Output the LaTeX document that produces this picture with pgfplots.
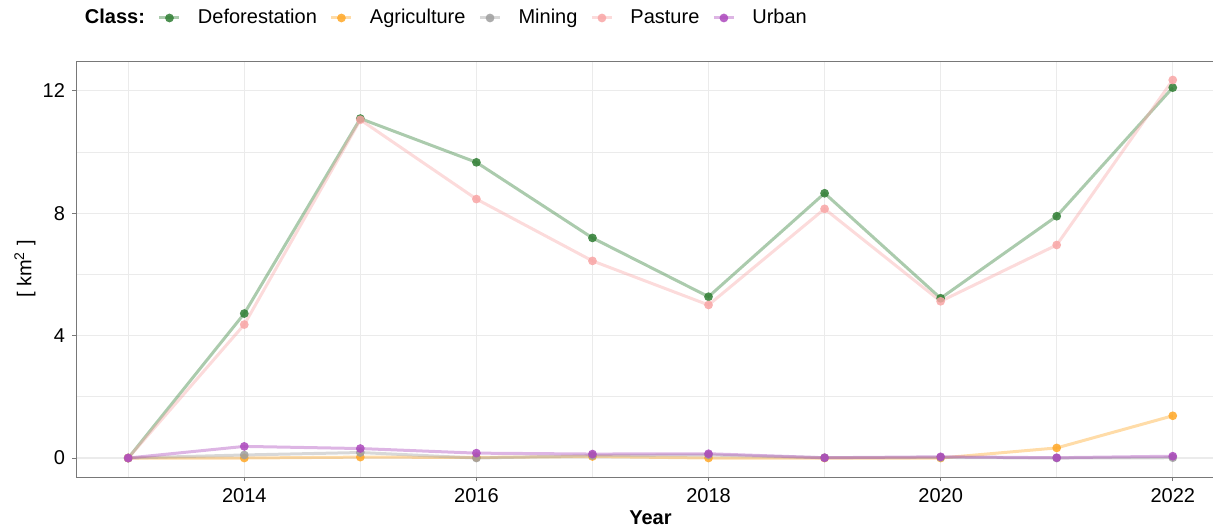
\documentclass[border=0pt]{standalone}
\usepackage{fontspec}
\setmainfont{Liberation Sans}
\usepackage{pgfplots}
\pgfplotsset{compat=1.18}
\definecolor{cdef}{RGB}{46,125,50}
\definecolor{cagr}{RGB}{255,167,38}
\definecolor{cmin}{RGB}{158,158,158}
\definecolor{cpas}{RGB}{248,165,165}
\definecolor{curb}{RGB}{171,71,188}
\definecolor{gridc}{RGB}{235,235,235}
\definecolor{framec}{RGB}{120,120,120}
\pgfplotsset{
  ser/.style={color=#1, line width=1.5pt, draw opacity=0.4, mark=*, mark size=2.2pt,
    mark options={solid, line width=0pt, draw opacity=0, fill=#1, fill opacity=0.85}},
}
\begin{document}
\begin{tikzpicture}
\useasboundingbox (0,0) rectangle (606.5pt,263.5pt);
\begin{axis}[
  at={(38pt,25pt)}, anchor=south west,
  scale only axis, width=574.5pt, height=208pt,
  font=\fontsize{10}{12}\selectfont,
  /pgf/number format/assume math mode=true,
  xmin=2012.55, xmax=2022.45, ymin=-0.62, ymax=12.97,
  xtick={2014,2016,2018,2020,2022},
  minor xtick={2013,2015,2017,2019,2021},
  ytick={0,4,8,12}, minor ytick={2,6,10},
  xticklabel style={/pgf/number format/1000 sep={}},
  grid=both,
  major grid style={draw=gridc, line width=0.6pt},
  minor grid style={draw=gridc, line width=0.35pt},
  axis line style={draw=framec, line width=0.5pt},
  tick style={draw=framec, line width=0.5pt},
  major tick length=2pt, minor tick length=0pt,
  tick align=outside,
  xtick pos=bottom, ytick pos=left,
  xlabel={\textbf{Year}},
  xlabel style={at={(axis description cs:0.5,-0.0986)}, anchor=center},
  ylabel={[ km\textsuperscript{2} ]},
  ylabel style={at={(axis description cs:-0.0444,0.5)}, anchor=center},
  legend style={at={(axis description cs:-0.007,1.1034)}, anchor=west,
    draw=none, fill=none, inner sep=0pt, outer sep=0pt,
    nodes={inner sep=0pt},
    /tikz/every odd column/.append style={column sep=8.5pt},
    /tikz/every even column/.append style={column sep=6.5pt},
    font=\fontsize{10}{12}\selectfont},
  legend columns=-1,
  legend cell align=left,
  legend image code/.code={\draw[mark repeat=2,mark phase=2] plot coordinates {(0pt,0pt) (5pt,0pt) (10pt,0pt)};},
]
\addlegendimage{empty legend}
\addlegendentry{\textbf{Class:}\hspace{-3.5pt}}
\addplot[ser=cdef] coordinates {(2013,0) (2014,4.72) (2015,11.09) (2016,9.66) (2017,7.19) (2018,5.27) (2019,8.65) (2020,5.22) (2021,7.9) (2022,12.1)};
\addlegendentry{Deforestation}
\addplot[ser=cagr] coordinates {(2013,0) (2014,0.0) (2015,0.03) (2016,0.02) (2017,0.05) (2018,0.0) (2019,0.0) (2020,0.0) (2021,0.33) (2022,1.38)};
\addlegendentry{Agriculture}
\addplot[ser=cmin] coordinates {(2013,0) (2014,0.1) (2015,0.18) (2016,0.0) (2017,0.08) (2018,0.1) (2019,0.01) (2020,0.02) (2021,0.0) (2022,0.01)};
\addlegendentry{Mining}
\addplot[ser=cpas] coordinates {(2013,0) (2014,4.36) (2015,11.05) (2016,8.46) (2017,6.44) (2018,5.0) (2019,8.14) (2020,5.12) (2021,6.96) (2022,12.35)};
\addlegendentry{Pasture}
\addplot[ser=curb] coordinates {(2013,0) (2014,0.38) (2015,0.31) (2016,0.16) (2017,0.13) (2018,0.14) (2019,0.01) (2020,0.04) (2021,0.01) (2022,0.06)};
\addlegendentry{Urban}
\end{axis}
\end{tikzpicture}
\end{document}
